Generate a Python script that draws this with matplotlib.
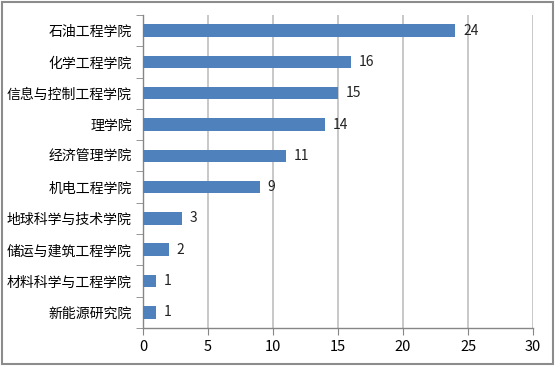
import numpy as np
import matplotlib
matplotlib.use("Agg")
from matplotlib import pyplot as plt
from matplotlib.patches import Rectangle

plt.rcParams["font.family"] = ["Noto Sans CJK SC", "DejaVu Sans"]
plt.rcParams["font.size"] = 10

schools = [
    "石油工程学院",
    "化学工程学院",
    "信息与控制工程学院",
    "理学院",
    "经济管理学院",
    "机电工程学院",
    "地球科学与技术学院",
    "储运与建筑工程学院",
    "材料科学与工程学院",
    "新能源研究院",
]
counts = [24, 16, 15, 14, 11, 9, 3, 2, 1, 1]
xticks = [0, 5, 10, 15, 20, 25, 30]

bar_color = "#4F81BD"
grid_color = "#BFBFBF"
axis_color = "#868686"

fig = plt.figure(figsize=(5.56, 3.66), dpi=100)
ax = fig.add_axes([0.257, 0.104, 0.702, 0.855])

n = len(schools)
ypos = np.arange(n)[::-1]
ax.barh(ypos, counts, height=0.4, color=bar_color, zorder=3)

for y, v in zip(ypos, counts):
    ax.text(v + 0.6, y, str(v), va="center", ha="left", fontsize=10, color="#222222")

ax.set_xlim(0, 30)
ax.set_ylim(-0.5, n - 0.5)
ax.set_xticks(xticks)
ax.set_xticklabels([str(t) for t in xticks], fontsize=10.5)

ax.set_yticks(ypos)
ax.set_yticklabels(schools)
ax.tick_params(axis="y", length=0, pad=8)
ax.set_yticks(np.arange(n + 1) - 0.5, minor=True)
ax.tick_params(axis="y", which="minor", length=5, color=axis_color, direction="out")
ax.tick_params(axis="x", length=5, color=axis_color, direction="out", pad=4)

ax.xaxis.grid(True, color=grid_color, linewidth=1.2, zorder=0)
ax.set_axisbelow(True)

for side in ["top", "right"]:
    ax.spines[side].set_visible(False)
for side in ["left", "bottom"]:
    ax.spines[side].set_color(axis_color)
    ax.spines[side].set_linewidth(1)

# outer frame
fig.patches.append(Rectangle((0.004, 0.006), 0.991, 0.988, transform=fig.transFigure,
                             fill=False, edgecolor="#8C8C8C", linewidth=1.5))

fig.savefig("out.png", dpi=100)
